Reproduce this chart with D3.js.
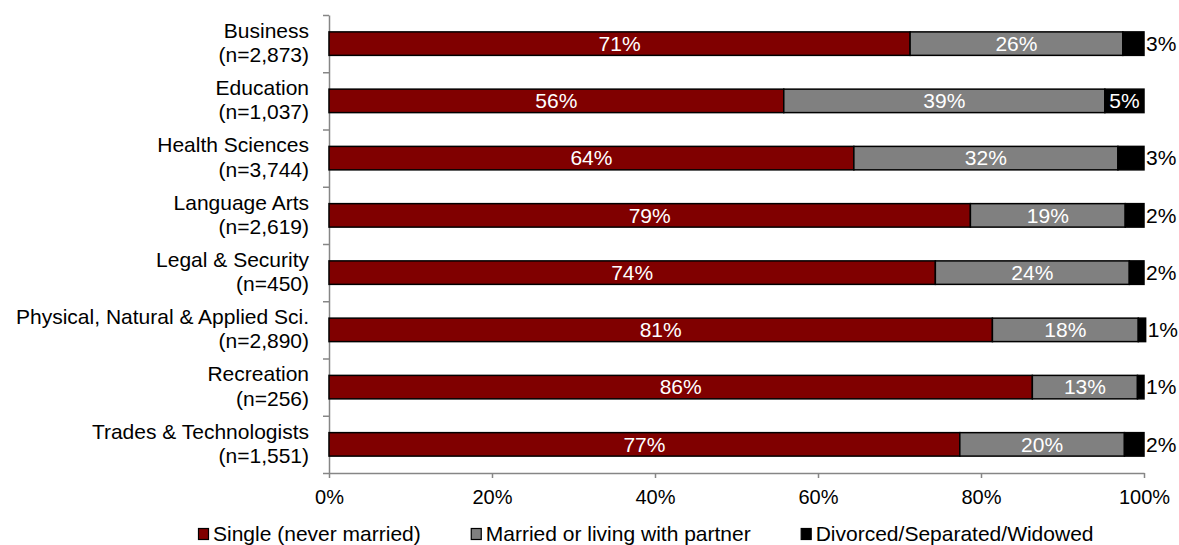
<!DOCTYPE html>
<html>
<head>
<meta charset="utf-8">
<script src="https://cdn.jsdelivr.net/npm/d3@7"></script>
<style>
  body { margin: 0; background: #fff; }
  text { font-family: "Liberation Sans", Arial, sans-serif; }
</style>
</head>
<body>
<div id="chart"></div>
<script>
const categories = ['Business', 'Education', 'Health Sciences', 'Language Arts', 'Legal & Security',
  'Physical, Natural & Applied Sci.', 'Recreation', 'Trades & Technologists']
const counts = ['2,873', '1,037', '3,744', '2,619', '450', '2,890', '256', '1,551']

const seriesNames = ['Single (never married)', 'Married or living with partner', 'Divorced/Separated/Widowed']
const single = [71.3, 55.8, 64.4, 78.7, 74.4, 81.4, 86.3, 77.4]
const married = [26.1, 39.4, 32.4, 19.0, 23.8, 17.9, 12.9, 20.2]
const divorced = [2.6, 4.8, 3.2, 2.3, 1.8, 0.9, 0.8, 2.4]
const xTicks = [0, 20, 40, 60, 80, 100]

const colors = ['#800000', '#808080', '#000000']
const width = 1179, height = 545
const margin = { top: 15, left: 329, right: 35, bottom: 72 }

const svg = d3.select('#chart').append('svg')
  .attr('width', width)
  .attr('height', height)

const x = d3.scaleLinear().domain([0, 100]).range([margin.left, 1144])
const y = d3.scaleBand().domain(categories)
  .range([margin.top, height - margin.bottom])
  .paddingInner(0.59).paddingOuter(0.295)
const yEdge = d3.scaleLinear().domain([0, categories.length]).range([margin.top, height - margin.bottom])

const rows = categories.map((c, i) => {
  const vals = [single[i], married[i], divorced[i]]
  let acc = 0
  return vals.map((v, k) => {
    const seg = { cat: c, k, v, x0: acc, x1: acc + v }
    acc += v
    return seg
  })
})

// axes
const axisColor = '#868686'
const xAxis = svg.append('g')
  .attr('transform', `translate(0,${height - margin.bottom})`)
  .call(d3.axisBottom(x).tickValues(xTicks).tickSize(5).tickSizeOuter(0).tickFormat(d => d + '%'))
xAxis.select('.domain').attr('stroke', axisColor).attr('stroke-width', 1.5)
xAxis.selectAll('.tick line').attr('stroke', axisColor).attr('stroke-width', 1.5)
xAxis.selectAll('.tick text').attr('font-size', 20).attr('fill', '#000').attr('dy', '1.15em')
  .style('font-family', '"Liberation Sans", Arial, sans-serif')

const yAxis = svg.append('g')
  .attr('transform', `translate(${margin.left},0)`)
  .call(d3.axisLeft(yEdge).tickValues(d3.range(categories.length + 1)).tickSize(6).tickSizeOuter(0).tickFormat(''))
yAxis.select('.domain').attr('stroke', axisColor).attr('stroke-width', 1.5)
yAxis.selectAll('.tick line').attr('stroke', axisColor).attr('stroke-width', 1.5)

// category labels
const catLabels = svg.append('g').selectAll('text')
  .data(categories)
  .enter()
  .append('text')
  .attr('text-anchor', 'end')
  .attr('font-size', 21)
  .attr('y', d => y(d) + y.bandwidth() / 2)
catLabels.append('tspan').attr('x', 309).attr('dy', '-0.27em').text(d => d)
catLabels.append('tspan').attr('x', 309).attr('dy', '1.15em').text((d, i) => '(n=' + counts[i] + ')')

// bars
const barG = svg.append('g')
barG.selectAll('g')
  .data(rows)
  .enter()
  .append('g')
  .selectAll('rect')
  .data(d => d)
  .enter()
  .append('rect')
  .attr('x', d => x(d.x0))
  .attr('y', d => y(d.cat))
  .attr('width', d => x(d.x1) - x(d.x0))
  .attr('height', y.bandwidth())
  .attr('fill', d => colors[d.k])
  .attr('stroke', '#000')
  .attr('stroke-width', 1.5)

// value labels
const segs = rows.flat()
svg.append('g').selectAll('text')
  .data(segs)
  .enter()
  .append('text')
  .attr('font-size', 21)
  .attr('dy', '0.35em')
  .attr('y', d => y(d.cat) + y.bandwidth() / 2)
  .attr('x', d => (d.k < 2 || d.v >= 4) ? (x(d.x0) + x(d.x1)) / 2 : x(d.x1) + 2)
  .attr('text-anchor', d => (d.k < 2 || d.v >= 4) ? 'middle' : 'start')
  .attr('fill', d => (d.k < 2 || d.v >= 4) ? '#fff' : '#000')
  .text(d => Math.round(d.v) + '%')

// legend
const legend = svg.append('g').attr('transform', 'translate(198,534)')
let lx = 0
seriesNames.forEach((name, i) => {
  const item = legend.append('g').attr('transform', `translate(${lx},0)`)
  item.append('rect')
    .attr('x', 0.5).attr('y', -5.5)
    .attr('width', 10).attr('height', 11)
    .attr('fill', colors[i])
    .attr('stroke', '#000')
    .attr('stroke-width', 1.2)
  const t = item.append('text')
    .attr('x', 15)
    .attr('dy', '0.35em')
    .attr('font-size', 21)
    .text(name)
  lx += 15 + t.node().getComputedTextLength() + 50
})
</script>
</body>
</html>
